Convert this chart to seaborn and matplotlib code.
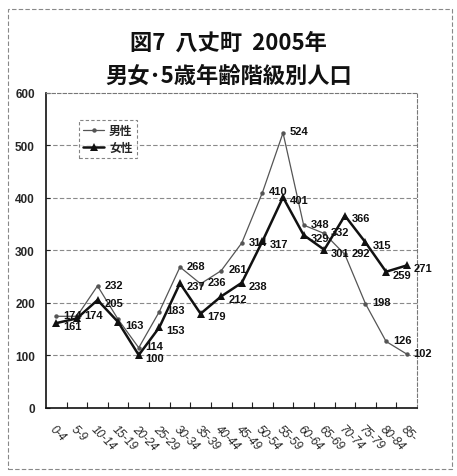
import matplotlib
matplotlib.use("Agg")
import matplotlib.pyplot as plt
import seaborn as sns
import numpy as np
import pandas as pd
from matplotlib.patches import Rectangle

# Age groups (5-year classes)
age_groups = ["0-4", "5-9", "10-14", "15-19", "20-24", "25-29", "30-34", "35-39",
              "40-44", "45-49", "50-54", "55-59", "60-64", "65-69", "70-74",
              "75-79", "80-84", "85-"]

# Population by sex
male = [174, 174, 232, 168, 114, 183, 268, 236, 261, 314, 410, 524, 348, 332,
        292, 198, 126, 102]
female = [161, 170, 205, 163, 100, 153, 237, 179, 212, 238, 317, 401, 329, 301,
          366, 315, 259, 271]

# Which points carry a printed value
male_labeled = [True, True, True, False] + [True] * 14
female_labeled = [True, False] + [True] * 16

series_names = ["男性", "女性"]
title_lines = ["図7  八丈町  2005年", "男女･5歳年齢階級別人口"]
y_ticks = [0, 100, 200, 300, 400, 500, 600]

sns.set_theme(style="white")
cjk = ["Noto Sans CJK JP", "DejaVu Sans"]
num_font = ["Liberation Sans Narrow", "Liberation Sans", "DejaVu Sans"]
plt.rcParams["font.family"] = cjk

df = pd.DataFrame({
    "pos": np.tile(np.arange(len(age_groups)), 2),
    "value": male + female,
    "sex": [series_names[0]] * len(male) + [series_names[1]] * len(female),
})

fig = plt.figure(figsize=(4.57, 4.77), dpi=100)
ax = fig.add_axes([46 / 457, 1 - 408.5 / 477, (417 - 46) / 457, (408.5 - 94) / 477])

sns.lineplot(data=df[df.sex == series_names[0]], x="pos", y="value", ax=ax,
             color="#555555", linewidth=0.9, marker="o", markersize=3.2,
             markeredgewidth=0, label=series_names[0])
sns.lineplot(data=df[df.sex == series_names[1]], x="pos", y="value", ax=ax,
             color="#111111", linewidth=1.8, marker="^", markersize=6,
             markeredgewidth=0, label=series_names[1])

# Value labels to the right of each point
for i, (v, show) in enumerate(zip(male, male_labeled)):
    if show:
        ax.annotate(str(v), (i, v), xytext=(5, 1), textcoords="offset points",
                    va="center", ha="left", fontsize=8, fontweight="bold",
                    family=num_font, color="#111111")
for i, (v, show) in enumerate(zip(female, female_labeled)):
    if show:
        ax.annotate(str(v), (i, v), xytext=(5, -2), textcoords="offset points",
                    va="center", ha="left", fontsize=8, fontweight="bold",
                    family=num_font, color="#111111")

ax.set_xlim(-0.5, len(age_groups) - 0.5)
ax.set_ylim(0, 600)
ax.set_yticks(y_ticks)
ax.set_yticklabels([str(t) for t in y_ticks], fontsize=8.5, fontweight="bold",
                   family=num_font)
ax.set_xticks(np.arange(len(age_groups)))
ax.set_xticklabels(age_groups, rotation=-45, ha="left", va="top",
                   rotation_mode="anchor", fontsize=8.5, family=num_font,
                   style="italic")
ax.set_xticks(np.arange(len(age_groups) - 1) + 0.5, minor=True)
ax.tick_params(axis="x", which="major", length=0, pad=11)
ax.tick_params(axis="x", which="minor", direction="in", length=4, width=0.8,
               color="#222222", bottom=True)
ax.tick_params(axis="y", which="major", direction="in", length=3, width=0.8,
               color="#222222", left=True, pad=8)
ax.set_xlabel("")
ax.set_ylabel("")

for y in y_ticks[1:-1]:
    ax.axhline(y, color="#8a8a8a", linewidth=0.8, linestyle=(0, (4, 2)), zorder=0)

for side in ["left", "bottom"]:
    ax.spines[side].set_color("#111111")
    ax.spines[side].set_linewidth(1.2)
for side in ["top", "right"]:
    ax.spines[side].set_color("#777777")
    ax.spines[side].set_linewidth(0.8)
    ax.spines[side].set_linestyle((0, (3, 2)))

leg = ax.legend(loc="upper left", bbox_to_anchor=(79 / 457, 1 - 121 / 477),
                bbox_transform=fig.transFigure, frameon=True, fancybox=False,
                prop={"family": cjk, "weight": "bold", "size": 8.5},
                handlelength=1.8, handletextpad=0.4, borderpad=0.35,
                labelspacing=0.35, borderaxespad=0)
leg.get_frame().set_edgecolor("#666666")
leg.get_frame().set_linewidth(0.8)
leg.get_frame().set_linestyle((0, (3, 2)))

fig.text(0.5, 1 - 43 / 477, title_lines[0], ha="center", va="center",
         fontsize=16, fontweight="bold", family=cjk, color="#111111")
fig.text(0.5, 1 - 76 / 477, title_lines[1], ha="center", va="center",
         fontsize=16, fontweight="bold", family=cjk, color="#111111")

fig.patches.append(Rectangle((8 / 457, 1 - 470 / 477), 444 / 457, 460 / 477,
                             transform=fig.transFigure, fill=False,
                             edgecolor="#888888", linewidth=0.8,
                             linestyle=(0, (4, 2))))

fig.savefig("out.png", dpi=100)
